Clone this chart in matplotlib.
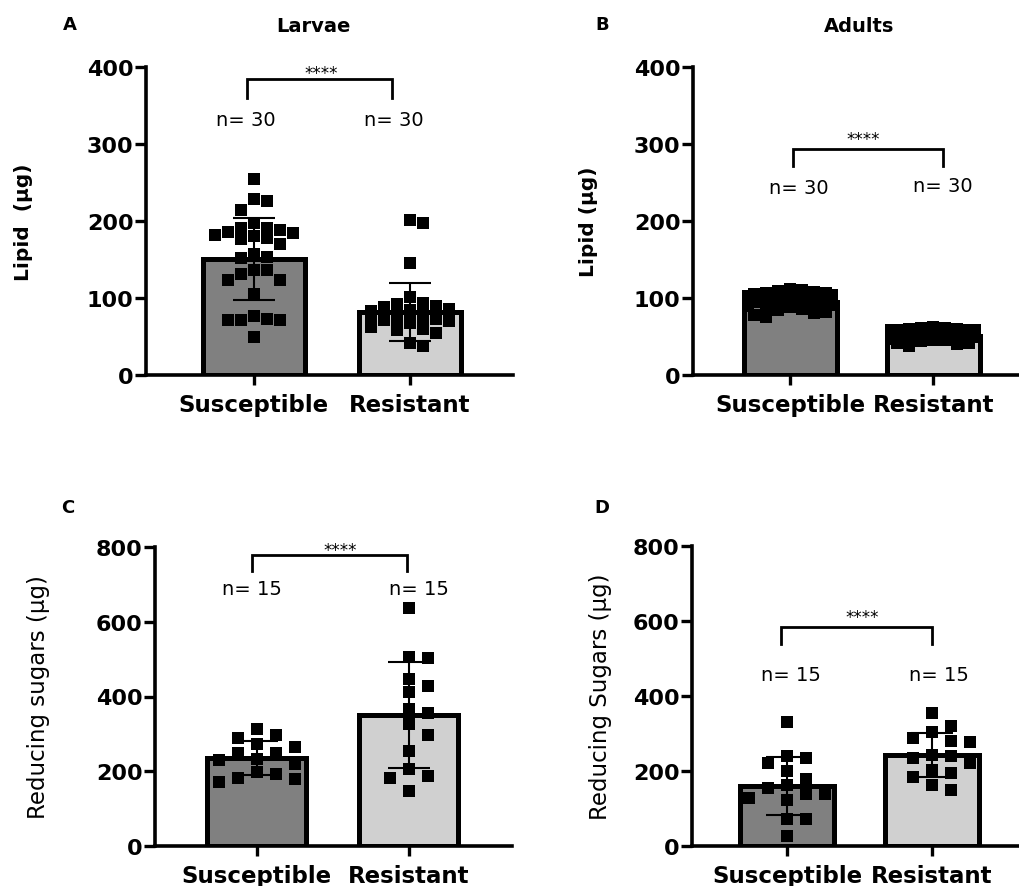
import matplotlib
matplotlib.use('Agg')
import matplotlib.pyplot as plt
import numpy as np

plt.rcParams['font.family'] = ['DejaVu Sans']

groups = ['Susceptible', 'Resistant']
bar_colors = ['#808080', '#d0d0d0']

# Panel A - larvae lipid (ug)
larvae_lipid_sus = [255, 229, 226, 214, 197, 191, 191, 188, 186, 184, 182, 180, 178, 176, 170,
                    157, 152, 153, 136, 136, 131, 123, 123, 105, 77, 71, 71, 73, 71, 50]
larvae_lipid_res = [201, 198, 146, 101, 93, 92, 90, 88, 86, 84, 83, 82, 81, 80, 79,
                    78, 77, 76, 75, 74, 73, 72, 70, 68, 62, 60, 58, 55, 41, 38]
larvae_lipid_mean = [151, 82]
larvae_lipid_sd = [53, 38]

# Panel B - adult lipid (ug)
adult_lipid_sus = [112, 110, 109, 108, 107, 106, 105, 104, 103, 102, 101, 100, 99, 98, 97,
                   96, 95, 94, 93, 92, 91, 90, 89, 88, 86, 84, 82, 80, 78, 75]
adult_lipid_res = [62, 61, 61, 60, 60, 59, 59, 58, 58, 57, 57, 56, 56, 55, 55,
                   54, 53, 52, 51, 50, 49, 48, 47, 46, 45, 44, 42, 41, 40, 38]
adult_lipid_mean = [95, 51]
adult_lipid_sd = [9, 6]

# Panel C - larvae reducing sugars (ug)
larvae_sugar_sus = [313, 298, 289, 273, 264, 250, 248, 234, 230, 219, 198, 192, 183, 179, 170]
larvae_sugar_res = [636, 505, 503, 448, 427, 411, 357, 366, 326, 298, 255, 205, 188, 183, 147]
larvae_sugar_mean = [235, 350]
larvae_sugar_sd = [45, 141]

# Panel D - adult reducing sugars (ug)
adult_sugar_sus = [331, 240, 236, 222, 200, 178, 162, 156, 138, 129, 124, 138, 73, 73, 27]
adult_sugar_res = [354, 320, 305, 289, 280, 278, 244, 240, 236, 222, 204, 196, 185, 164, 149]
adult_sugar_mean = [160, 243]
adult_sugar_sd = [78, 58]

n_lipid = [30, 30]
n_sugar = [15, 15]

W, H = 1019, 887
fig = plt.figure(figsize=(W / 100, H / 100), dpi=100)


def px_axes(left, right, top, bottom):
    return fig.add_axes([left / W, 1 - bottom / H, (right - left) / W, (bottom - top) / H])


def swarm_x(ax, xc, vals, step, dy_min, max_half):
    # simple beeswarm in pixel space: each point goes to the nearest free slot
    vals = np.asarray(vals, dtype=float)
    pts = ax.transData.transform(np.column_stack([np.full(len(vals), xc), vals]))
    x0 = pts[0, 0]
    ys = pts[:, 1]
    nslot = int(max_half // step)
    cands = [0.0]
    for k in range(1, nslot + 1):
        cands += [k * step, -k * step]
    if max_half - nslot * step > step * 0.3:
        cands += [max_half, -max_half]
    placed = []
    offs = np.zeros(len(vals))
    for i in np.argsort(-ys, kind='stable'):
        best, best_cost = 0.0, None
        for c in cands:
            cost = 0.0
            for (px, py) in placed:
                ox = step - abs(c - px)
                oy = dy_min - abs(ys[i] - py)
                if ox > 0 and oy > 0:
                    cost += ox * oy
            if cost == 0:
                best, best_cost = c, 0
                break
            if best_cost is None or cost < best_cost:
                best, best_cost = c, cost
        offs[i] = best
        placed.append((best, ys[i]))
    return ax.transData.inverted().transform(np.column_stack([x0 + offs, ys]))[:, 0]


def draw_panel(ax, sus, res, means, sds, xlim, ymax, ystep, ylabel, ylabel_bold, ylab_x,
               bracket, stars_xy, n_vals, n_pos, step):
    ax.set_xlim(*xlim)
    ax.set_ylim(0, ymax)
    ax.bar([0, 1], means, width=0.65, color=bar_colors, edgecolor='black', linewidth=3.6, zorder=2)
    for xc, vals in zip([0, 1], [sus, res]):
        xs = swarm_x(ax, xc, vals, step, 13, 42)
        ax.scatter(xs, vals, marker='s', s=80, color='black', linewidths=0, zorder=3)
    ax.errorbar([0, 1], means, yerr=sds, fmt='none', ecolor='black', elinewidth=1.5,
                capsize=15, capthick=1.5, zorder=4)

    for s in ['top', 'right']:
        ax.spines[s].set_visible(False)
    for s in ['left', 'bottom']:
        ax.spines[s].set_linewidth(2.6)
    ax.set_yticks(np.arange(0, ymax + 1, ystep))
    ax.set_xticks([0, 1])
    ax.set_xticklabels(groups, fontsize=16.5, fontweight='bold')
    ax.tick_params(axis='y', length=8, width=2.4, pad=1, labelsize=16)
    ax.tick_params(axis='x', length=7, width=2.4, pad=6)
    for lab in ax.get_yticklabels():
        lab.set_fontweight('bold')
    ax.set_ylabel(ylabel, fontsize=14.5 if ylabel_bold else 16.5,
                  fontweight='bold' if ylabel_bold else 'normal')
    ax.yaxis.set_label_coords(ylab_x, 0.5)

    x1, x2, ytop, yleg = bracket
    ax.plot([x1, x1, x2, x2], [yleg, ytop, ytop, yleg], color='black', lw=2, zorder=5,
            solid_joinstyle='miter', clip_on=False)
    ax.text(stars_xy[0], stars_xy[1], '****', ha='center', va='center', fontsize=12)
    for (nx, ny), n in zip(n_pos, n_vals):
        ax.text(nx, ny, f'n= {n}', ha='center', va='center', fontsize=14)


axA = px_axes(146, 513, 68, 376)
draw_panel(axA, larvae_lipid_sus, larvae_lipid_res, larvae_lipid_mean, larvae_lipid_sd,
           (-0.69, 1.66), 400, 100, 'Lipid  (\u03bcg)', True, -0.308,
           (-0.045, 0.885, 384, 360), (0.43, 392), n_lipid, [(-0.05, 332), (0.90, 332)], 13)

axB = px_axes(693, 1019, 68, 376)
draw_panel(axB, adult_lipid_sus, adult_lipid_res, adult_lipid_mean, adult_lipid_sd,
           (-0.68, 1.60), 400, 100, 'Lipid (\u03bcg)', True, -0.291,
           (0.02, 1.07, 293, 271), (0.51, 307), n_lipid, [(0.06, 244), (1.07, 246)], 12)

axC = px_axes(155, 512, 548, 847)
draw_panel(axC, larvae_sugar_sus, larvae_sugar_res, larvae_sugar_mean, larvae_sugar_sd,
           (-0.67, 1.68), 800, 200, 'Reducing sugars (\u03bcg)', False, -0.294,
           (-0.03, 0.99, 779, 735), (0.55, 792), n_sugar, [(-0.03, 688), (1.07, 688)], 19)

axD = px_axes(692, 1019, 547, 847)
draw_panel(axD, adult_sugar_sus, adult_sugar_res, adult_sugar_mean, adult_sugar_sd,
           (-0.655, 1.60), 800, 200, 'Reducing Sugars (\u03bcg)', False, -0.245,
           (-0.04, 1.0, 585, 540), (0.52, 610), n_sugar, [(0.03, 458), (1.05, 458)], 19)

# panel letters and titles
for letter, x, y in [('A', 70, 25), ('B', 602, 25), ('C', 68, 508), ('D', 602, 508)]:
    fig.text(x / W, 1 - y / H, letter, ha='center', va='center', fontsize=13, fontweight='bold')
fig.text(313 / W, 1 - 27 / H, 'Larvae', ha='center', va='center', fontsize=14, fontweight='bold')
fig.text(859 / W, 1 - 27 / H, 'Adults', ha='center', va='center', fontsize=14, fontweight='bold')

fig.savefig('out.png', dpi=100, facecolor='white')
